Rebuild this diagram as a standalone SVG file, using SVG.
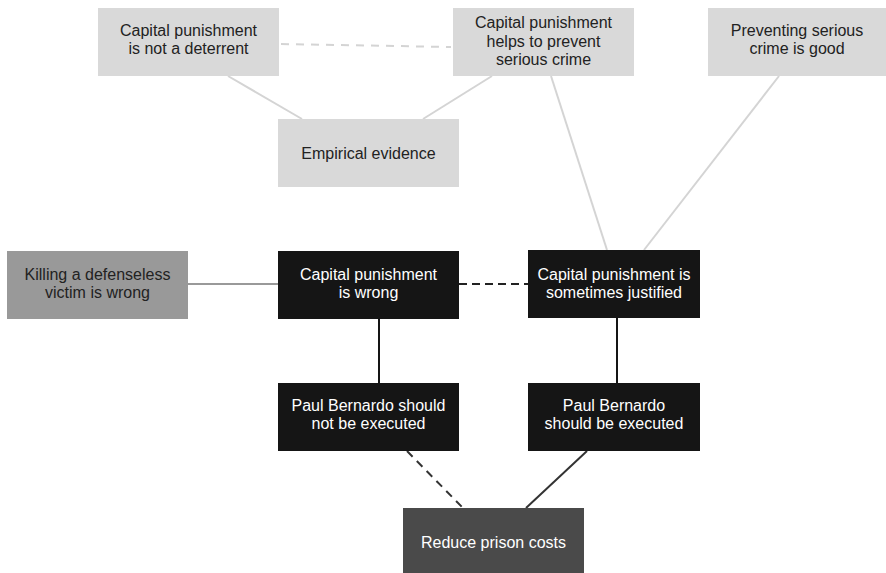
<svg xmlns="http://www.w3.org/2000/svg" width="886" height="573" viewBox="0 0 886 573">
<style>
.light{fill:#d9d9d9}
.mid{fill:#999999}
.dark{fill:#151515}
.grey{fill:#4a4a4a}
text{font-family:"Liberation Sans",Arial,Helvetica,sans-serif;font-size:16px;text-anchor:middle}
.tl{fill:#222222}
.tw{fill:#ffffff}
.c{fill:none;stroke-width:2}
</style>
<rect width="886" height="573" fill="#ffffff"/>
<g id="connectors">
<line class="c" x1="281" y1="44" x2="451" y2="47" stroke="#d4d4d4" stroke-dasharray="8,7"/>
<line class="c" x1="228" y1="76" x2="302" y2="119" stroke="#d4d4d4"/>
<line class="c" x1="492" y1="76" x2="423" y2="119" stroke="#d4d4d4"/>
<line class="c" x1="551" y1="76" x2="607" y2="250" stroke="#d4d4d4"/>
<line class="c" x1="779" y1="76" x2="644" y2="250" stroke="#d4d4d4"/>
<line class="c" x1="188" y1="284" x2="278" y2="284" stroke="#999999"/>
<line class="c" x1="459" y1="284" x2="528" y2="284" stroke="#222222" stroke-dasharray="8,5"/>
<line class="c" x1="379" y1="319" x2="379" y2="383" stroke="#151515"/>
<line class="c" x1="617" y1="318" x2="617" y2="383" stroke="#151515"/>
<line class="c" x1="407" y1="451" x2="463" y2="508" stroke="#333333" stroke-dasharray="8,6"/>
<line class="c" x1="587" y1="451" x2="526" y2="508" stroke="#333333"/>
</g>
<g id="n_not_deterrent">
<rect class="light" x="98" y="8" width="181" height="68"/>
<text class="tl" x="188.5" y="36">Capital punishment</text>
<text class="tl" x="188.5" y="54">is not a deterrent</text>
</g>
<g id="n_helps_prevent">
<rect class="light" x="453" y="8" width="181" height="68"/>
<text class="tl" x="543.5" y="28">Capital punishment</text>
<text class="tl" x="543.5" y="47">helps to prevent</text>
<text class="tl" x="543.5" y="65">serious crime</text>
</g>
<g id="n_preventing_good">
<rect class="light" x="708" y="8" width="178" height="68"/>
<text class="tl" x="797" y="36">Preventing serious</text>
<text class="tl" x="797" y="54">crime is good</text>
</g>
<g id="n_empirical">
<rect class="light" x="278" y="119" width="181" height="68"/>
<text class="tl" x="368.5" y="159">Empirical evidence</text>
</g>
<g id="n_killing">
<rect class="mid" x="7" y="251" width="181" height="68"/>
<text class="tl" x="97.5" y="280">Killing a defenseless</text>
<text class="tl" x="97.5" y="298">victim is wrong</text>
</g>
<g id="n_cp_wrong">
<rect class="dark" x="278" y="251" width="181" height="68"/>
<text class="tw" x="368.5" y="280">Capital punishment</text>
<text class="tw" x="368.5" y="298">is wrong</text>
</g>
<g id="n_cp_justified">
<rect class="dark" x="528" y="250" width="172" height="68"/>
<text class="tw" x="614" y="280">Capital punishment is</text>
<text class="tw" x="614" y="298">sometimes justified</text>
</g>
<g id="n_pb_not">
<rect class="dark" x="278" y="383" width="181" height="68"/>
<text class="tw" x="368.5" y="411">Paul Bernardo should</text>
<text class="tw" x="368.5" y="429">not be executed</text>
</g>
<g id="n_pb_exec">
<rect class="dark" x="528" y="383" width="172" height="68"/>
<text class="tw" x="614" y="411">Paul Bernardo</text>
<text class="tw" x="614" y="429">should be executed</text>
</g>
<g id="n_reduce">
<rect class="grey" x="403" y="508" width="181" height="68"/>
<text class="tw" x="493.5" y="548">Reduce prison costs</text>
</g>
</svg>
